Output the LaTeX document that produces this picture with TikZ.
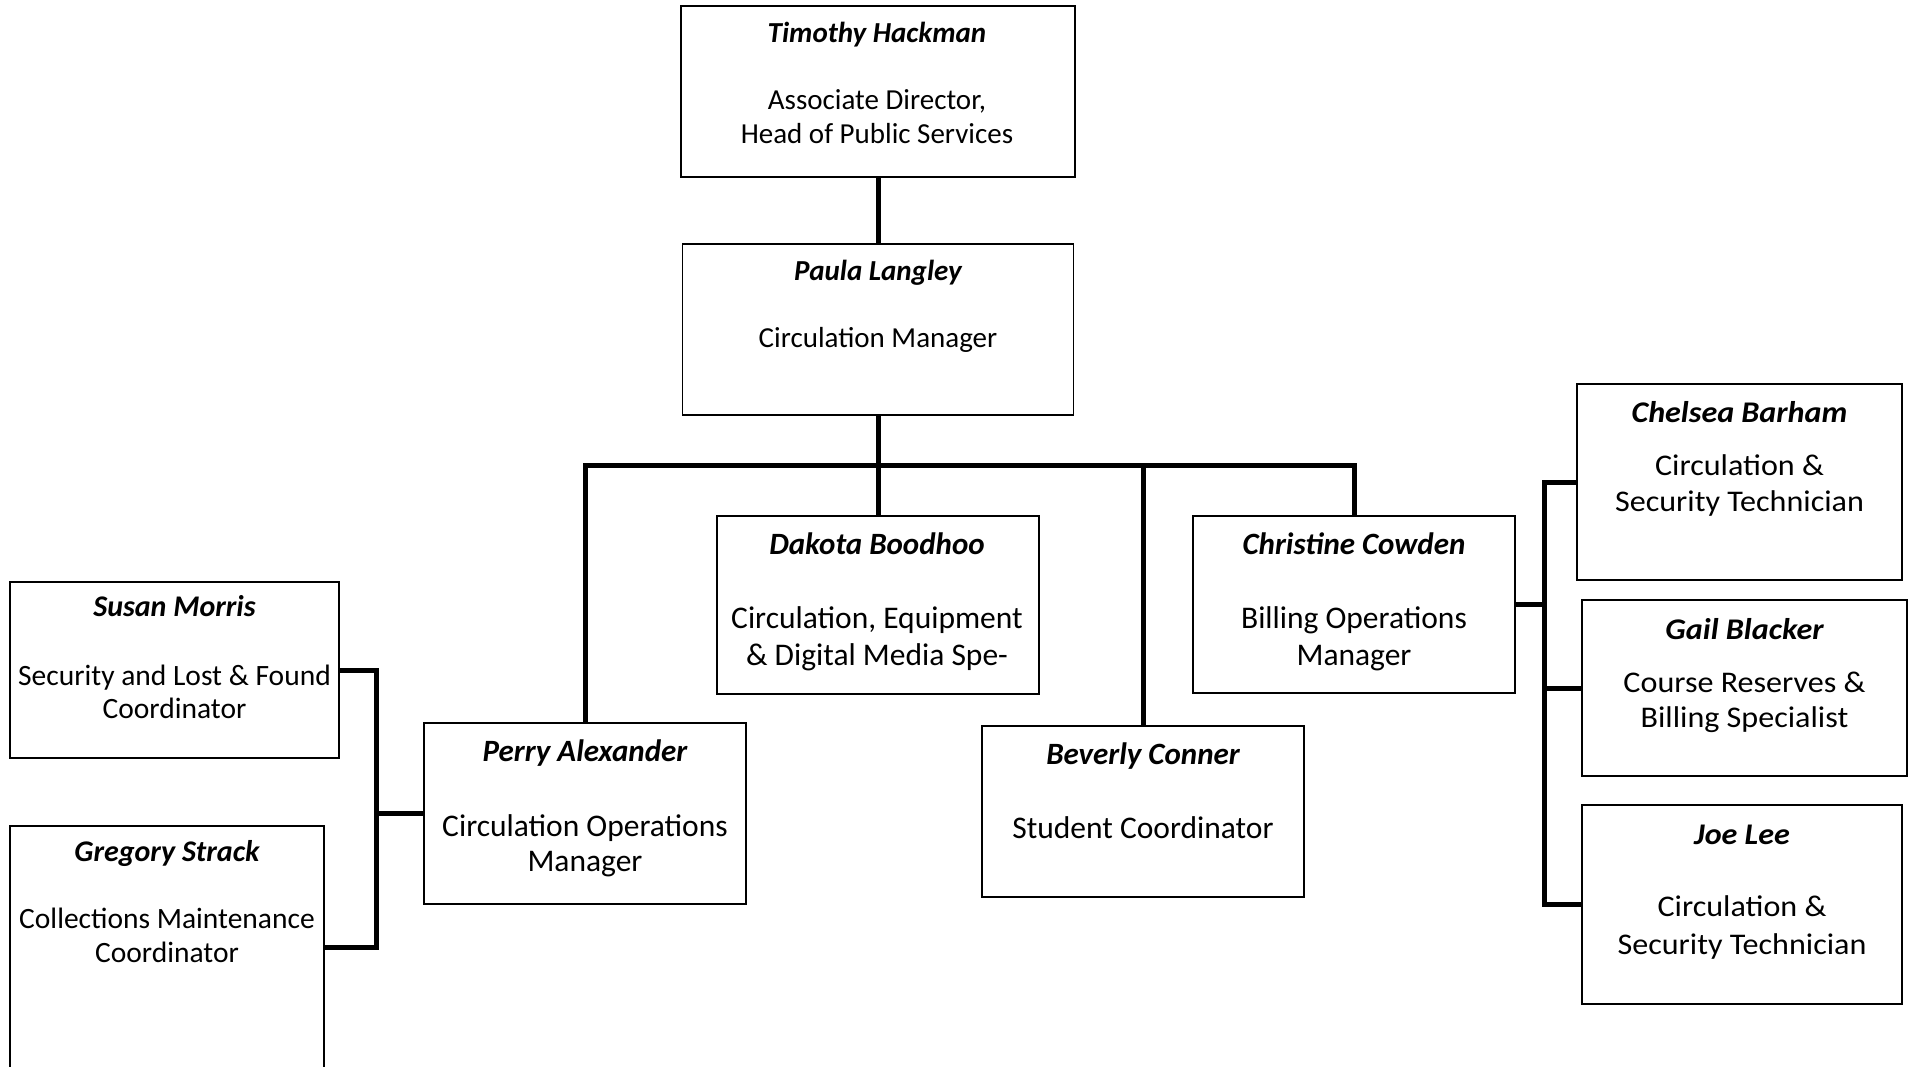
\documentclass[tikz,border=0pt]{standalone}
\usepackage{fontspec}
\setmainfont{Carlito}
\newfontfamily\widefont[FakeStretch=1.07]{Carlito}
\begin{document}
\begin{tikzpicture}[x=1pt,y=-1pt,
  box/.style={draw, line width=1.8pt, inner sep=0pt, outer sep=0pt},
  conn/.style={line width=5pt},
  nm/.style={anchor=base, inner sep=0pt, font=\fontsize{31}{37}\selectfont\bfseries\itshape},
  rl/.style={anchor=base, inner sep=0pt, font=\fontsize{31.5}{37}\selectfont},
  nmt/.style={anchor=base, inner sep=0pt, font=\fontsize{29}{35}\selectfont\bfseries\itshape},
  rlt/.style={anchor=base, inner sep=0pt, font=\fontsize{29}{35}\selectfont},
  nml/.style={anchor=base, inner sep=0pt, font=\fontsize{30}{36}\selectfont\bfseries\itshape},
  rll/.style={anchor=base, inner sep=0pt, font=\fontsize{29.5}{36}\selectfont},
  nmr/.style={anchor=base, inner sep=0pt, font=\widefont\fontsize{30}{36}\selectfont\bfseries\itshape},
  rlr/.style={anchor=base, inner sep=0pt, font=\widefont\fontsize{30}{36}\selectfont},
]
\useasboundingbox (0,0) rectangle (1912,1067);
\clip (0,0) rectangle (1912,1067);
\fill[white] (0,0) rectangle (1912,1067);

% boxes
\node[box, minimum width=394pt, minimum height=171pt] (tim) at (878,91.5) {};
\node[box, minimum width=391pt, minimum height=171pt] (paula) at (878,329.5) {};
\node[box, minimum width=322pt, minimum height=181pt] (perry) at (585,813.5) {};
\node[box, minimum width=322pt, minimum height=178pt] (dakota) at (878,605) {};
\node[box, minimum width=322pt, minimum height=171pt] (beverly) at (1143,811.5) {};
\node[box, minimum width=322pt, minimum height=177pt] (christine) at (1354,604.5) {};
\node[box, minimum width=325pt, minimum height=196pt] (chelsea) at (1739.5,482) {};
\node[box, minimum width=325pt, minimum height=176pt] (gail) at (1744.5,688) {};
\node[box, minimum width=320pt, minimum height=199pt] (joe) at (1742,904.5) {};
\node[box, minimum width=329pt, minimum height=176pt] (susan) at (174.5,670) {};
\node[box, minimum width=314pt, minimum height=242pt] (gregory) at (167,947) {};

% texts
\node[nmt] (timN) at (877,43) {Timothy Hackman};
\node[rlt] (timR1) at (877,110) {Associate Director,};
\node[rlt] (timR2) at (877,144) {Head of Public Services};

\node[nmt] (paulaN) at (878,281) {Paula Langley};
\node[rlt] (paulaR) at (878,348) {Circulation Manager};

\node[nm] (dakotaN) at (877,554) {Dakota Boodhoo};
\node[rl] (dakotaR1) at (877,628) {Circulation, Equipment};
\node[rl] (dakotaR2) at (877,665) {\& Digital Media Spe-};

\node[nm] (christineN) at (1354,554) {Christine Cowden};
\node[rl] (christineR1) at (1354,628) {Billing Operations};
\node[rl] (christineR2) at (1354,665) {Manager};

\node[nm] (perryN) at (585,761) {Perry Alexander};
\node[rl] (perryR1) at (585,836) {Circulation Operations};
\node[rl] (perryR2) at (585,871) {Manager};

\node[nm] (beverlyN) at (1143,764) {Beverly Conner};
\node[rl] (beverlyR) at (1143,838) {Student Coordinator};

\node[nml] (susanN) at (174.5,616) {Susan Morris};
\node[rll] (susanR1) at (174.5,685) {Security and Lost \& Found};
\node[rll] (susanR2) at (174.5,718) {Coordinator};

\node[nml] (gregoryN) at (167,861) {Gregory Strack};
\node[rll] (gregoryR1) at (167,928) {Collections Maintenance};
\node[rll] (gregoryR2) at (167,962) {Coordinator};

\node[nmr] (chelseaN) at (1739.5,422) {Chelsea Barham};
\node[rlr] (chelseaR1) at (1739.5,475) {Circulation \&};
\node[rlr] (chelseaR2) at (1739.5,511) {Security Technician};

\node[nmr] (gailN) at (1744.5,639) {Gail Blacker};
\node[rlr] (gailR1) at (1744.5,692) {Course Reserves \&};
\node[rlr] (gailR2) at (1744.5,727) {Billing Specialist};

\node[nmr] (joeN) at (1742,844) {Joe Lee};
\node[rlr] (joeR1) at (1742,916) {Circulation \&};
\node[rlr] (joeR2) at (1742,954) {Security Technician};

% connectors
\coordinate (jb) at (878,465);
\coordinate (rx) at (1544,0);
\coordinate (lx) at (376,0);

\draw[conn] (tim.south) -- (paula.north);
\draw[conn] (paula.south) -- (dakota.north);
\draw[conn] (perry.north) |- (jb) -| (christine.north);
\draw[conn] (beverly.north) -- (beverly.north |- jb);

\draw[conn] (christine.east) -- (christine.east -| rx);
\draw[conn] (chelsea.west) -- (chelsea.west -| rx) -- (joe.west -| rx) -- (joe.west);
\draw[conn] (gail.west) -- (gail.west -| rx);

\draw[conn] (susan.east) -- (susan.east -| lx) -- (gregory.east -| lx) -- (gregory.east);
\draw[conn] (perry.west) -- (perry.west -| lx);
\end{tikzpicture}
\end{document}
